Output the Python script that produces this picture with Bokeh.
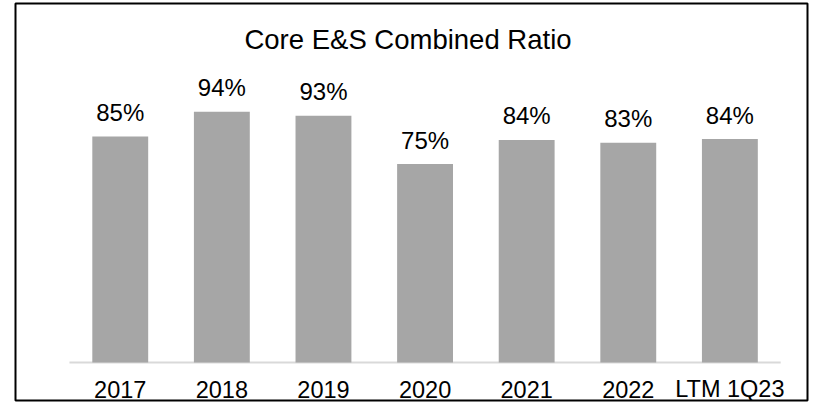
from bokeh.plotting import figure
from bokeh.models import Range1d, Label
from bokeh.core.properties import value
from bokeh.embed import file_html
from bokeh.resources import INLINE

# ---- data ----
categories = ["2017", "2018", "2019", "2020", "2021", "2022", "LTM 1Q23"]
ratios = [85.0, 94.3, 92.8, 74.6, 83.7, 82.6, 84.0]
title_text = "Core E&S Combined Ratio"

idx = list(range(len(categories)))
labels = [f"{v:.0f}%" for v in ratios]

FONT = value("Liberation Sans")

p = figure(width=817, height=402, output_backend="svg", toolbar_location=None,
           x_axis_type=None, y_axis_type=None,
           x_range=Range1d(-1.031, 6.764), y_range=Range1d(-14.29, 135.0),
           min_border_left=15, min_border_right=10, min_border_top=3, min_border_bottom=2)
p.outline_line_color = "#000000"
p.outline_line_width = 2
p.background_fill_color = "white"
p.border_fill_color = "white"

# baseline
p.segment(x0=[idx[0] - 0.5], y0=[0], x1=[idx[-1] + 0.5], y1=[0],
          line_color="#d9d9d9", line_width=2)

# bars
p.vbar(x=idx, top=ratios, bottom=0, width=0.55, fill_color="#a6a6a6", line_color=None)

# data labels
p.text(x=idx, y=ratios, text=labels, text_align="center", text_baseline="alphabetic",
       y_offset=-24, text_font=FONT, text_font_size="24px", text_color="#000000")

# category labels
p.text(x=idx, y=[0] * len(idx), text=categories, text_align="center", text_baseline="middle",
       y_offset=27, text_font=FONT, text_font_size="23.5px", text_color="#000000")

# title
p.add_layout(Label(x=2.832, y=121.6, text=title_text, text_align="center", text_baseline="middle",
                   text_font="Liberation Sans", text_font_size="27.5px", text_color="#000000"))

open("out.html", "w").write(file_html(p, INLINE))
